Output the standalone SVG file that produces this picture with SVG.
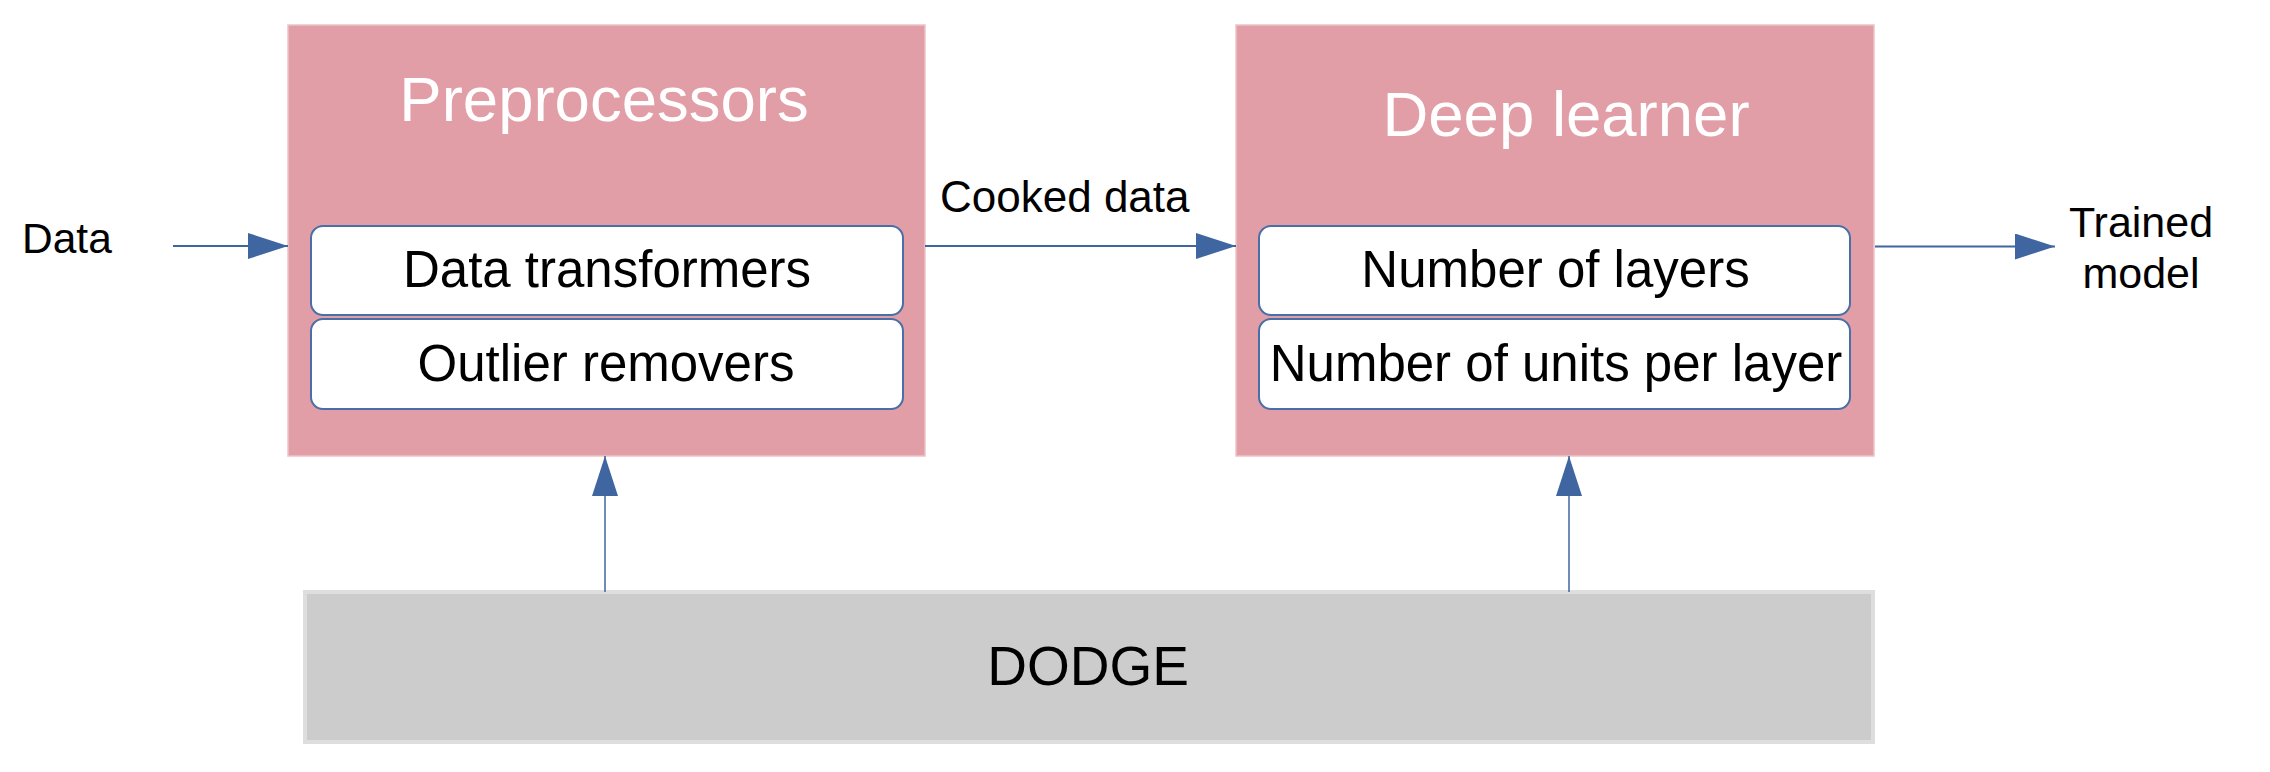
<svg xmlns="http://www.w3.org/2000/svg" width="2270" height="772" viewBox="0 0 2270 772">
  <style>
    .t { font-family: "Liberation Sans", Arial, sans-serif; fill: #000; }
    .title { font-family: "Liberation Sans", Arial, sans-serif; fill: #ffffff; font-size: 63.5px; text-anchor: middle; }
    .inner-t { font-size: 51px; text-anchor: middle; }
    .outer { fill: #e19ea6; stroke: #ecc3c7; stroke-width: 1.5; }
    .inner { fill: #ffffff; stroke: #4a6ea6; stroke-width: 2; }
    .conn { stroke: #3f66a1; stroke-width: 2; fill: none; }
    .conn-v { stroke: #3f66a1; stroke-width: 1.5; fill: none; }
  </style>
  <defs>
    <marker id="arrow" viewBox="0 0 40 26" markerWidth="40" markerHeight="26" refX="40" refY="13" orient="auto" markerUnits="userSpaceOnUse">
      <path d="M0,0 L40,13 L0,26 z" fill="#3f66a1"/>
    </marker>
    <marker id="arrowUp" viewBox="0 0 40 26" markerWidth="40" markerHeight="26" refX="40" refY="13" orient="auto" markerUnits="userSpaceOnUse">
      <path d="M0,0 L40,13 L0,26 z" fill="#3f66a1"/>
    </marker>
  </defs>

  <rect width="2270" height="772" fill="#ffffff"/>

  <g id="preprocessors">
    <rect class="outer" x="288" y="25" width="637" height="431"/>
    <text class="title" x="604" y="120.5">Preprocessors</text>
    <g id="data-transformers">
      <rect class="inner" x="311" y="226" width="592" height="89" rx="12"/>
      <text class="t inner-t" x="607" y="287">Data transformers</text>
    </g>
    <g id="outlier-removers">
      <rect class="inner" x="311" y="319" width="592" height="90" rx="12"/>
      <text class="t inner-t" x="606" y="380.5">Outlier removers</text>
    </g>
  </g>

  <g id="deep-learner">
    <rect class="outer" x="1236" y="25" width="638" height="431"/>
    <text class="title" x="1566" y="135.5">Deep learner</text>
    <g id="number-of-layers">
      <rect class="inner" x="1259" y="226" width="591" height="89" rx="12"/>
      <text class="t inner-t" x="1555.5" y="287">Number of layers</text>
    </g>
    <g id="units-per-layer">
      <rect class="inner" x="1259" y="319" width="591" height="90" rx="12"/>
      <text class="t inner-t" x="1556" y="380.5">Number of units per layer</text>
    </g>
  </g>

  <g id="dodge">
    <rect x="305" y="592" width="1568" height="150" fill="#cccccc" stroke="#dedede" stroke-width="4"/>
    <text class="t" x="1088" y="685" font-size="55" text-anchor="middle">DODGE</text>
  </g>

  <g id="data-label">
    <text class="t" x="22" y="253" font-size="42.5">Data</text>
  </g>
  <g id="trained-model-label">
    <text class="t" x="2141" y="236.5" font-size="43" text-anchor="middle">Trained</text>
    <text class="t" x="2141" y="288" font-size="43" text-anchor="middle">model</text>
  </g>

  <g id="connectors">
    <line class="conn" x1="173" y1="246" x2="288" y2="246" marker-end="url(#arrow)"/>
    <line class="conn" x1="925" y1="246" x2="1236" y2="246" marker-end="url(#arrow)"/>
    <text class="t" x="940" y="212" font-size="44">Cooked data</text>
    <line class="conn" x1="1875" y1="246.5" x2="2055" y2="246.5" marker-end="url(#arrow)"/>
    <line class="conn-v" x1="605" y1="592" x2="605" y2="456" marker-end="url(#arrowUp)"/>
    <line class="conn-v" x1="1569" y1="592" x2="1569" y2="456" marker-end="url(#arrowUp)"/>
  </g>
</svg>
